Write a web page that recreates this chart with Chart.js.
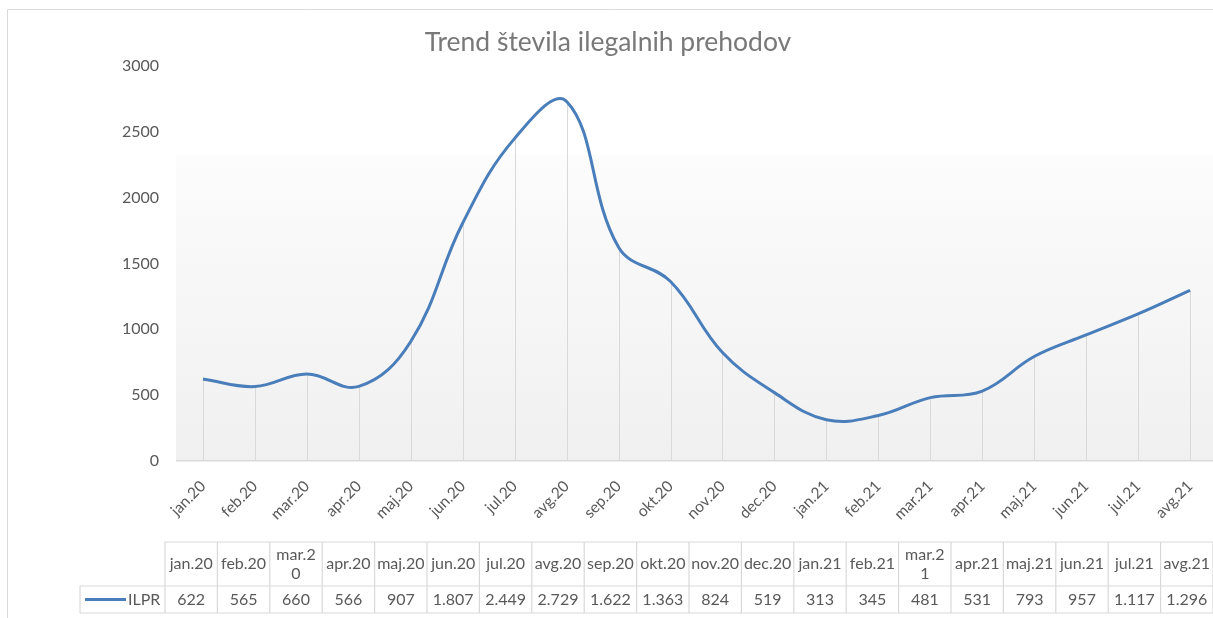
<!DOCTYPE html>
<html>
<head>
<meta charset="utf-8">
<script src="https://cdn.jsdelivr.net/npm/chart.js@4.4.1/dist/chart.umd.min.js"></script>
<style>
  html, body { margin: 0; padding: 0; background: #fff; overflow: hidden; }
  #wrap { width: 1220px; height: 618px; }
</style>
</head>
<body>
<div id="wrap"><canvas id="trendChart" width="1220" height="618"></canvas></div>
<script>
const months = ["jan.20","feb.20","mar.20","apr.20","maj.20","jun.20","jul.20","avg.20","sep.20","okt.20",
                "nov.20","dec.20","jan.21","feb.21","mar.21","apr.21","maj.21","jun.21","jul.21","avg.21"];
const ilpr = [622, 565, 660, 566, 907, 1807, 2449, 2729, 1622, 1363,
              824, 519, 313, 345, 481, 531, 793, 957, 1117, 1296];
const yTicks = [0, 500, 1000, 1500, 2000, 2500, 3000];
const seriesName = "ILPR";
const chartTitle = "Trend števila ilegalnih prehodov";

const lineColor = "#4a7ebb";
const textGrey = "#595959";
const titleGrey = "#787878";
const gridGrey = "#d9d9d9";
const fontFamily = "Lato, 'Open Sans', sans-serif";

// 1807 -> "1.807"
function fmt(v) {
  return String(v).replace(/\B(?=(\d{3})+(?!\d))/g, ".");
}

// the table header wraps the wider "mar" labels onto two lines
function headLines(label) {
  return label.startsWith("mar") ? [label.slice(0, 5), label.slice(5)] : [label];
}

const framePlugin = {
  id: "frame",
  beforeDraw(chart) {
    const c = chart.ctx;
    c.save();
    c.fillStyle = "#fff";
    c.fillRect(0, 0, chart.width, chart.height);
    c.strokeStyle = gridGrey;
    c.lineWidth = 1;
    c.beginPath();
    c.moveTo(7.5, chart.height);
    c.lineTo(7.5, 9.5);
    c.lineTo(chart.width, 9.5);
    c.stroke();

    // plot area fill: white on top, light grey gradient below
    const a = chart.chartArea;
    const top = a.top + (a.bottom - a.top) * 0.225;
    const g = c.createLinearGradient(0, top, 0, a.bottom);
    g.addColorStop(0, "#fcfcfc");
    g.addColorStop(1, "#f0f0f0");
    c.fillStyle = g;
    c.fillRect(a.left - 1, top, a.right - a.left + 1, a.bottom - top);
    c.restore();
  }
};

const dropLinePlugin = {
  id: "dropLines",
  beforeDatasetsDraw(chart) {
    const c = chart.ctx;
    const base = chart.scales.y.getPixelForValue(0);
    c.save();
    c.strokeStyle = gridGrey;
    c.lineWidth = 1;
    chart.getDatasetMeta(0).data.forEach(pt => {
      const x = Math.round(pt.x) + 0.5;
      c.beginPath();
      c.moveTo(x, pt.y);
      c.lineTo(x, base);
      c.stroke();
    });
    c.restore();
  }
};

const dataTablePlugin = {
  id: "dataTable",
  afterDraw(chart) {
    const c = chart.ctx;
    const left = 165, right = 1213, legendLeft = 80;
    const headTop = 542, headBottom = 586, rowBottom = 613;
    const w = (right - left) / months.length;
    c.save();
    c.strokeStyle = gridGrey;
    c.lineWidth = 1.2;
    c.beginPath();
    c.moveTo(left, headTop); c.lineTo(right, headTop);
    c.moveTo(legendLeft, headBottom); c.lineTo(right, headBottom);
    c.moveTo(legendLeft, rowBottom); c.lineTo(right, rowBottom);
    c.moveTo(legendLeft, headBottom); c.lineTo(legendLeft, rowBottom);
    for (let i = 0; i <= months.length; i++) {
      const x = left + i * w;
      c.moveTo(x, headTop); c.lineTo(x, rowBottom);
    }
    c.stroke();

    c.fillStyle = textGrey;
    c.font = "16px " + fontFamily;
    c.textAlign = "center";
    c.textBaseline = "middle";
    const headMid = (headTop + headBottom) / 2;
    const rowMid = (headBottom + rowBottom) / 2;
    months.forEach((m, i) => {
      const cx = left + (i + 0.5) * w;
      const lines = headLines(m);
      lines.forEach((ln, k) => {
        c.fillText(ln, cx, headMid + (k - (lines.length - 1) / 2) * 19);
      });
      c.fillText(fmt(ilpr[i]), cx, rowMid);
    });

    // legend key
    c.strokeStyle = lineColor;
    c.lineWidth = 3;
    c.beginPath();
    c.moveTo(85, rowMid); c.lineTo(126, rowMid);
    c.stroke();
    c.textAlign = "left";
    c.fillText(seriesName, 128, rowMid);
    c.restore();
  }
};

new Chart(document.getElementById("trendChart"), {
  type: "line",
  data: {
    labels: months,
    datasets: [{
      label: seriesName,
      data: ilpr,
      borderColor: lineColor,
      borderWidth: 3,
      pointRadius: 0,
      tension: 0.4,
      fill: false
    }]
  },
  options: {
    responsive: false,
    animation: false,
    layout: { padding: { left: 0, right: 4, top: 0, bottom: 0 } },
    plugins: {
      legend: { display: false },
      tooltip: { enabled: false },
      title: {
        display: true,
        text: chartTitle,
        color: titleGrey,
        font: { family: fontFamily, size: 26.5, weight: "normal" },
        padding: { top: 27, bottom: 7 }
      }
    },
    scales: {
      x: {
        offset: true,
        grid: { display: false },
        border: { color: gridGrey, width: 1.5 },
        ticks: {
          color: textGrey,
          font: { family: fontFamily, size: 15.5 },
          minRotation: 45,
          maxRotation: 45,
          autoSkip: false,
          padding: 8
        },
        afterFit(s) { s.height = 157; }
      },
      y: {
        min: 0,
        max: 3000,
        afterBuildTicks(s) { s.ticks = yTicks.map(v => ({ value: v })); },
        grid: { display: false, drawTicks: false },
        border: { display: false },
        ticks: {
          color: textGrey,
          font: { family: fontFamily, size: 16 },
          padding: 18,
          callback: v => String(v)
        },
        afterFit(s) { s.width = 177; }
      }
    }
  },
  plugins: [framePlugin, dropLinePlugin, dataTablePlugin]
});
</script>
</body>
</html>
